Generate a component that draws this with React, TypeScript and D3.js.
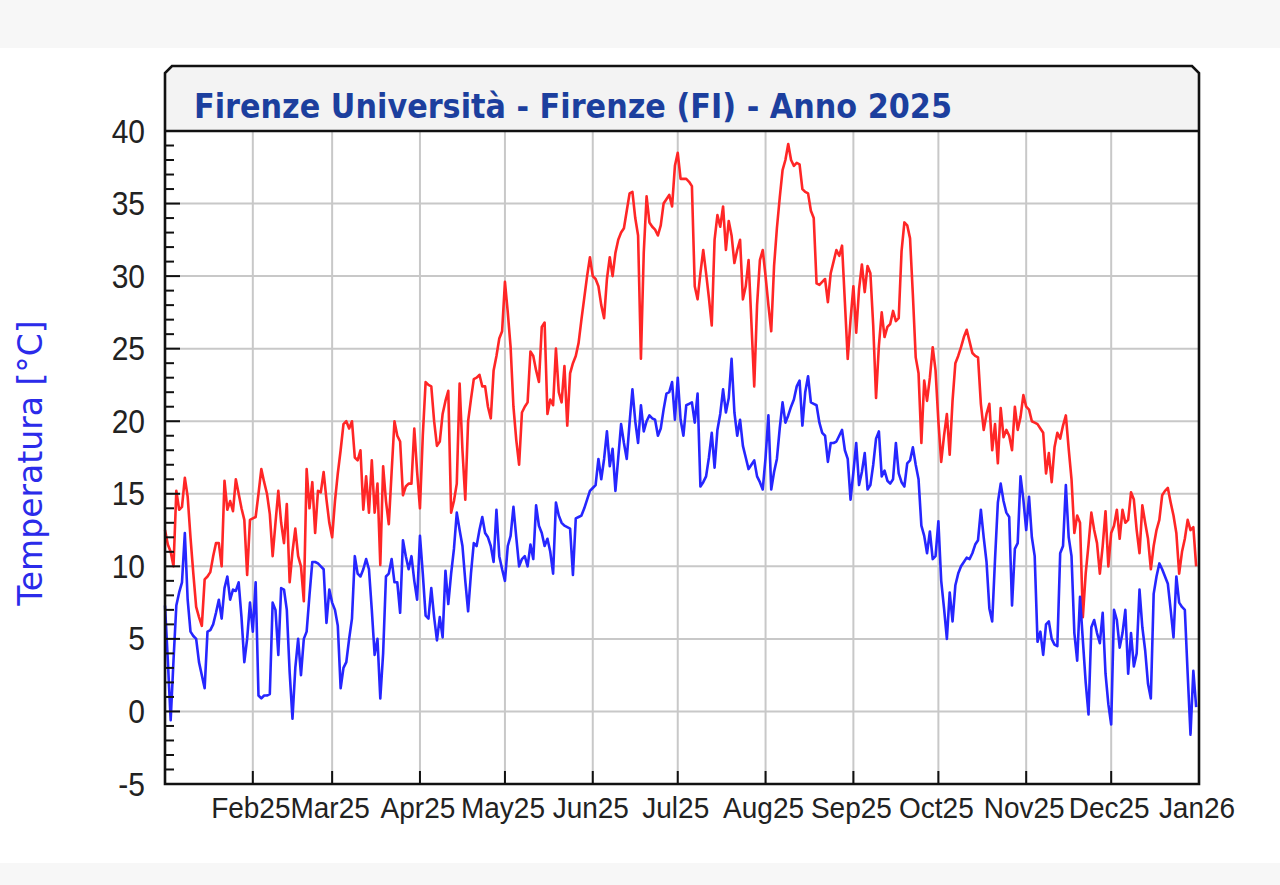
import React from "react";
import * as d3 from "d3";

const chartTitle = "Firenze Università - Firenze (FI) - Anno 2025";
const yAxisTitle = "Temperatura [°C]";
const startDate = new Date(2025, 0, 1);
const endDate = new Date(2026, 0, 1);
const yMajorTicks = [-5, 0, 5, 10, 15, 20, 25, 30, 35, 40];
const yGridValues = [0, 5, 10, 15, 20, 25, 30, 35];

// Daily maximum temperature (°C), Jan 1 .. Dec 31 2025
const tMax = [
  // Jan
  12.5, 11.5, 11.0, 10.0, 15.2, 13.9, 14.1, 16.1, 14.8, 12.0, 9.5, 7.2, 6.5, 5.9, 9.1, 9.3, 9.6, 10.7, 11.6, 11.6, 10.0, 15.9, 13.9, 14.5, 13.8, 16.0, 15.0, 14.0, 13.2, 9.4, 13.2,
  // Feb
  13.3, 13.4, 15.0, 16.7, 15.8, 15.0, 13.6, 10.7, 13.0, 15.2, 13.0, 11.6, 14.3, 8.9, 11.0, 12.6, 10.7, 10.0, 7.6, 16.7, 14.0, 15.8, 12.3, 15.2, 15.1, 16.5, 14.6, 13.0,
  // Mar
  12.0, 14.5, 16.4, 18.0, 19.8, 20.0, 19.5, 20.0, 17.5, 17.3, 18.0, 13.9, 16.2, 13.7, 17.3, 13.7, 15.7, 10.1, 16.9, 14.5, 12.9, 16.5, 20.0, 19.0, 18.6, 14.9, 15.5, 15.7, 15.7, 19.5, 16.5,
  // Apr
  14.0, 19.0, 22.7, 22.5, 22.4, 20.0, 18.3, 18.6, 20.5, 21.4, 22.1, 13.7, 14.5, 15.7, 22.6, 18.0, 14.6, 20.0, 21.5, 22.9, 23.0, 23.2, 22.4, 22.4, 21.0, 20.2, 23.5, 24.5, 25.7, 26.2,
  // May
  29.6, 27.5, 25.1, 21.0, 18.7, 17.0, 20.6, 21.0, 21.3, 24.8, 24.5, 23.5, 22.7, 26.5, 26.8, 20.5, 21.5, 21.1, 25.0, 22.0, 21.3, 23.8, 19.7, 23.3, 24.0, 24.5, 25.4, 27.0, 28.5, 30.0, 31.3,
  // Jun
  30.0, 29.8, 29.3, 28.0, 27.1, 29.8, 31.3, 30.0, 31.6, 32.5, 33.0, 33.3, 34.5, 35.7, 35.8, 34.0, 32.8, 24.3, 31.6, 35.5, 33.7, 33.4, 33.2, 32.8, 33.5, 35.0, 35.3, 35.6, 34.8, 37.6,
  // Jul
  38.5, 36.7, 36.7, 36.7, 36.5, 36.2, 29.3, 28.4, 30.2, 31.8, 30.2, 28.5, 26.6, 32.5, 34.2, 33.4, 34.8, 31.8, 33.8, 32.8, 30.9, 31.8, 32.5, 28.4, 29.3, 31.1, 26.8, 22.4, 28.0, 31.1, 31.8,
  // Aug
  30.0, 28.0, 26.2, 30.7, 33.3, 35.4, 37.3, 38.0, 39.1, 38.0, 37.6, 37.8, 37.7, 36.0, 35.8, 35.7, 34.5, 34.0, 29.5, 29.4, 29.6, 29.8, 28.2, 30.2, 31.0, 31.8, 31.4, 32.1, 28.2, 24.3, 27.0,
  // Sep
  29.3, 26.1, 29.1, 30.8, 28.9, 30.7, 30.2, 26.6, 21.6, 25.2, 27.5, 25.8, 26.5, 26.7, 27.6, 26.9, 27.1, 31.7, 33.7, 33.5, 32.6, 28.7, 24.4, 23.3, 18.5, 22.8, 21.4, 23.0, 25.1, 23.5,
  // Oct
  20.0, 17.2, 19.0, 20.5, 17.7, 21.4, 24.0, 24.5, 25.1, 25.8, 26.3, 25.5, 24.7, 24.5, 24.4, 21.2, 19.4, 20.5, 21.2, 18.0, 19.8, 17.1, 20.9, 18.9, 19.4, 19.0, 18.0, 21.0, 19.4, 20.3, 21.8,
  // Nov
  21.0, 20.8, 20.0, 19.9, 19.8, 19.5, 19.2, 16.4, 17.8, 15.8, 18.2, 19.2, 18.8, 19.7, 20.4, 18.1, 16.0, 12.3, 13.5, 13.0, 6.5, 9.5, 11.5, 13.7, 12.5, 11.6, 9.5, 11.4, 13.8, 10.0,
  // Dec
  12.3, 12.8, 13.9, 11.9, 13.9, 13.0, 13.2, 15.1, 14.6, 12.5, 10.9, 14.2, 13.0, 11.9, 9.8, 11.4, 12.5, 13.2, 14.9, 15.2, 15.4, 14.4, 13.5, 12.3, 9.5, 11.0, 11.9, 13.2, 12.5, 12.7, 10.0,
];

// Daily minimum temperature (°C), Jan 1 .. Dec 31 2025
const tMin = [
  // Jan
  7.3, 3.5, -0.6, 3.5, 7.3, 8.2, 8.9, 12.3, 7.7, 5.5, 5.2, 5.0, 3.4, 2.5, 1.6, 5.5, 5.6, 6.0, 6.8, 7.7, 6.4, 8.5, 9.3, 7.7, 8.4, 8.3, 8.9, 6.5, 3.4, 5.0, 7.5,
  // Feb
  5.5, 8.9, 1.1, 0.9, 1.1, 1.1, 1.2, 7.5, 7.0, 3.9, 8.5, 8.4, 7.0, 2.7, -0.5, 3.0, 5.0, 2.5, 5.0, 5.5, 8.0, 10.3, 10.3, 10.2, 10.0, 9.8, 6.1, 8.4,
  // Mar
  7.5, 7.0, 5.9, 1.6, 3.0, 3.4, 5.0, 6.4, 10.7, 9.5, 9.3, 9.8, 10.5, 9.8, 7.0, 3.9, 5.0, 0.9, 4.0, 9.3, 9.5, 10.5, 8.9, 8.9, 6.8, 11.8, 10.7, 9.8, 10.7, 9.0, 7.7,
  // Apr
  12.1, 9.5, 6.6, 6.4, 8.5, 6.5, 4.9, 6.5, 5.1, 9.7, 7.4, 9.5, 11.2, 13.7, 12.5, 11.4, 9.0, 6.9, 9.5, 11.6, 11.4, 12.5, 13.4, 12.3, 12.0, 11.4, 10.3, 13.9, 10.7, 9.8,
  // May
  9.0, 11.4, 12.1, 14.1, 12.0, 10.0, 10.5, 10.7, 10.0, 11.5, 10.5, 14.2, 12.8, 12.3, 11.4, 11.9, 11.0, 9.5, 14.4, 13.5, 13.0, 12.8, 12.7, 12.6, 9.4, 13.3, 13.4, 13.5, 14.0, 14.6, 15.2,
  // Jun
  15.4, 15.6, 17.4, 16.0, 17.4, 19.3, 16.9, 18.1, 15.2, 17.5, 19.8, 18.5, 17.4, 19.9, 22.2, 20.0, 18.5, 21.1, 19.3, 20.0, 20.4, 20.2, 20.1, 19.0, 19.5, 20.8, 21.9, 22.0, 22.7, 20.1,
  // Jul
  23.0, 20.1, 19.0, 21.1, 21.2, 21.3, 19.9, 21.9, 15.5, 15.8, 16.2, 17.5, 19.2, 16.8, 19.4, 20.5, 22.2, 20.6, 21.6, 24.3, 20.6, 19.0, 20.1, 18.3, 17.5, 16.7, 17.0, 17.3, 16.2, 15.8, 15.3,
  // Aug
  17.5, 20.4, 15.3, 16.5, 17.4, 19.5, 21.3, 19.9, 20.4, 21.0, 21.5, 22.4, 22.8, 19.7, 22.0, 23.1, 21.3, 21.2, 21.1, 19.9, 19.2, 19.0, 17.2, 18.5, 18.5, 18.6, 19.0, 19.4, 18.0, 17.4, 14.6,
  // Sep
  16.5, 18.5, 15.6, 16.5, 17.8, 15.3, 15.6, 17.0, 18.8, 19.3, 16.2, 16.6, 15.9, 15.7, 16.0, 18.5, 16.4, 15.8, 15.5, 17.1, 17.3, 18.2, 17.0, 16.0, 12.8, 12.1, 10.9, 12.4, 10.5, 10.7,
  // Oct
  13.1, 9.0, 7.1, 5.0, 8.2, 6.2, 8.7, 9.5, 10.0, 10.3, 10.6, 10.5, 10.9, 11.5, 11.8, 13.9, 12.0, 10.3, 7.1, 6.2, 10.5, 14.4, 15.7, 14.5, 13.7, 13.4, 7.3, 11.2, 11.6, 16.2, 14.6,
  // Nov
  12.5, 14.8, 12.0, 10.7, 4.8, 5.5, 3.9, 6.0, 6.2, 5.0, 4.6, 4.5, 10.9, 11.4, 15.6, 12.0, 10.7, 5.4, 3.5, 7.9, 4.9, 2.0, -0.2, 5.8, 6.3, 5.4, 4.7, 6.8, 2.6, 0.5,
  // Dec
  -0.9, 7.0, 6.3, 4.4, 5.4, 7.0, 2.6, 5.4, 3.1, 4.0, 8.4, 5.8, 4.2, 1.9, 0.9, 8.1, 9.3, 10.2, 9.8, 9.3, 8.8, 7.0, 5.1, 9.3, 7.5, 7.2, 7.0, 2.6, -1.6, 2.8, 0.3,
];

export default function App() {
  const W = 1280;
  const H = 885;
  const L = 165;
  const R = 1199;
  const T = 131;
  const B = 784;
  const TT = 66;
  const ch = 7;

  const x = d3.scaleTime().domain([startDate, endDate]).range([L, R]);
  const y = d3.scaleLinear().domain([-5, 40]).range([B, T]);
  const dates = tMax.map((_, i) => d3.timeDay.offset(startDate, i));
  const line = d3
    .line<number>()
    .x((_, i) => x(dates[i]))
    .y((d) => y(d));
  const months = d3.timeMonth.range(d3.timeMonth.offset(startDate, 1), d3.timeDay.offset(endDate, 1));
  const fmt = d3.timeFormat("%b%y");
  const minor = d3.range(-5, 41);

  const framePath = `M${L},${B} L${L},${TT + ch} L${L + ch},${TT} L${R - ch},${TT} L${R},${TT + ch} L${R},${B} Z`;
  const titlePath = `M${L},${T} L${L},${TT + ch} L${L + ch},${TT} L${R - ch},${TT} L${R},${TT + ch} L${R},${T} Z`;

  return (
    <svg
      width={W}
      height={H}
      viewBox={`0 0 ${W} ${H}`}
      style={{ position: "absolute", left: 0, top: 0, display: "block" }}
    >
      <rect x={0} y={0} width={W} height={H} fill="#ffffff" />
      <rect x={0} y={0} width={W} height={48} fill="#f7f7f7" />
      <rect x={0} y={863} width={W} height={H - 863} fill="#f7f7f7" />

      <path d={titlePath} fill="#f3f3f3" />

      {yGridValues.map((v) => (
        <line key={"hg" + v} x1={L} x2={R} y1={y(v)} y2={y(v)} stroke="#c8c8c8" strokeWidth={2} />
      ))}
      {months.slice(0, -1).map((m) => (
        <line key={"vg" + m.getTime()} x1={x(m)} x2={x(m)} y1={T} y2={B} stroke="#c8c8c8" strokeWidth={2} />
      ))}

      <path d={line(tMax) || ""} fill="none" stroke="#ff2626" strokeWidth={2.6} strokeLinejoin="round" />
      <path d={line(tMin) || ""} fill="none" stroke="#2626ff" strokeWidth={2.6} strokeLinejoin="round" />

      <path d={framePath} fill="none" stroke="#111" strokeWidth={2.6} />
      <line x1={L} x2={R} y1={T} y2={T} stroke="#111" strokeWidth={2.6} />

      {minor.map((v) => (
        <line
          key={"mt" + v}
          x1={L}
          x2={L + (v % 5 === 0 ? 15 : 9)}
          y1={y(v)}
          y2={y(v)}
          stroke="#111"
          strokeWidth={2}
        />
      ))}
      {months.slice(0, -1).map((m) => (
        <line key={"xt" + m.getTime()} x1={x(m)} x2={x(m)} y1={B} y2={B - 13} stroke="#111" strokeWidth={2} />
      ))}

      {yMajorTicks.map((v) => (
        <text
          key={"yl" + v}
          transform={`translate(145,${y(v) + 11.5}) scale(1,1.1)`}
          textAnchor="end"
          fontFamily="'Liberation Sans', Arial, sans-serif"
          fontSize={30}
          fill="#222"
        >
          {v}
        </text>
      ))}

      {months.map((m) => (
        <text
          key={"xl" + m.getTime()}
          transform={`translate(${x(m) - 2},818) scale(1,1.08)`}
          textAnchor="middle"
          fontFamily="'Liberation Sans', Arial, sans-serif"
          fontSize={28}
          fill="#222"
        >
          {fmt(m)}
        </text>
      ))}

      <text
        transform={`translate(194,118) scale(1,1.12)`}
        fontFamily="'DejaVu Sans', Verdana, sans-serif"
        fontWeight="bold"
        fontSize={30}
        fill="#1c3f9e"
        textLength={758}
        lengthAdjust="spacingAndGlyphs"
      >
        {chartTitle}
      </text>

      <text
        transform={`translate(42,463) rotate(-90)`}
        textAnchor="middle"
        fontFamily="'DejaVu Sans', Verdana, sans-serif"
        fontSize={33}
        fill="#2b2bea"
      >
        {yAxisTitle}
      </text>
    </svg>
  );
}
